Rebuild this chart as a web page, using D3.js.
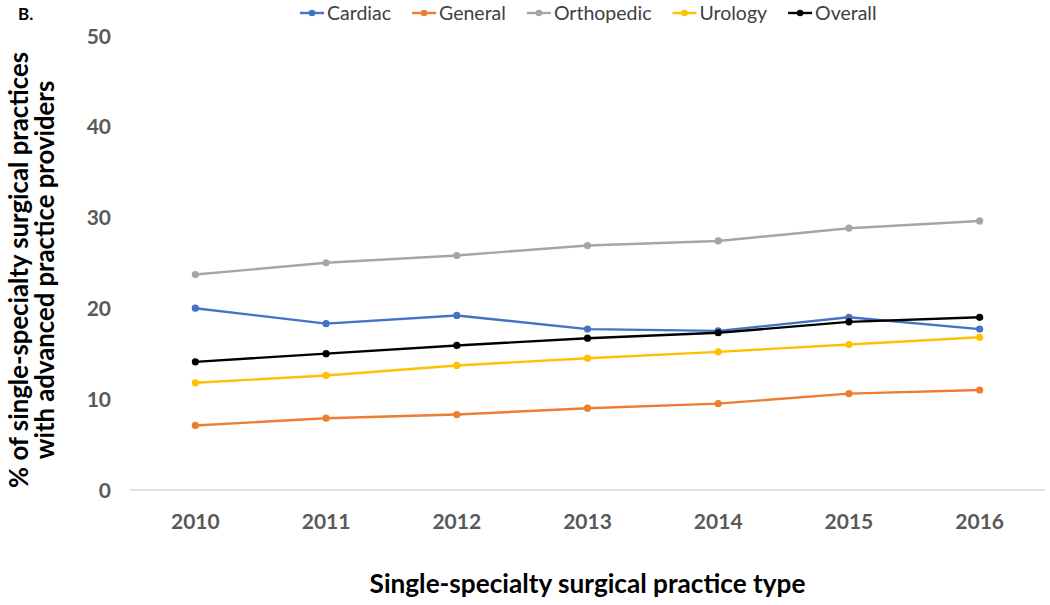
<!DOCTYPE html>
<html>
<head>
<meta charset="utf-8">
<script src="https://cdn.jsdelivr.net/npm/d3@7"></script>
<style>
  html, body { margin: 0; padding: 0; background: #fff; }
  svg { display: block; }
  text { font-family: Lato, "Open Sans", "Liberation Sans", sans-serif; }
</style>
</head>
<body>
<svg id="chart" width="1050" height="605"></svg>
<script>
// ---- Data ----
const years = ["2010", "2011", "2012", "2013", "2014", "2015", "2016"];
const seriesNames = ["Cardiac", "General", "Orthopedic", "Urology", "Overall"];
const cardiac    = [20.0, 18.3, 19.2, 17.7, 17.5, 19.0, 17.7];
const general    = [7.1, 7.9, 8.3, 9.0, 9.5, 10.6, 11.0];
const orthopedic = [23.7, 25.0, 25.8, 26.9, 27.4, 28.8, 29.6];
const urology    = [11.8, 12.6, 13.7, 14.5, 15.2, 16.0, 16.8];
const overall    = [14.1, 15.0, 15.9, 16.7, 17.3, 18.5, 19.0];
const yTicks = [0, 10, 20, 30, 40, 50];
const colors = ["#4472C4", "#ED7D31", "#A5A5A5", "#FFC000", "#000000"];
const seriesValues = [cardiac, general, orthopedic, urology, overall];

const svg = d3.select("#chart");
const plot = { left: 130, right: 1045, top: 35.5, bottom: 490 };

const x = d3.scaleBand().domain(years).range([plot.left, plot.right]).padding(0);
const y = d3.scaleLinear().domain([0, 50]).range([plot.bottom, plot.top]);
const cx = d => x(d) + x.bandwidth() / 2;

function fitText(sel, target) {
  const base = parseFloat(sel.style("font-size"));
  const w = sel.node().getComputedTextLength();
  sel.style("font-size", (base * target / w) + "px");
}

// x-axis baseline
svg.append("line")
  .attr("x1", plot.left).attr("x2", plot.right)
  .attr("y1", y(0)).attr("y2", y(0))
  .attr("stroke", "#D9D9D9").attr("stroke-width", 1.3);

// y tick labels
const yAxis = d3.axisLeft(y).tickValues(yTicks).tickSize(0).tickPadding(0);
const gy = svg.append("g").attr("transform", `translate(111,0)`).call(yAxis);
gy.select(".domain").remove();
gy.selectAll("text")
  .style("font-family", "Lato, 'Open Sans', sans-serif")
  .style("font-size", "21px").style("font-weight", "bold")
  .attr("fill", "#595959").attr("dy", "0.36em");

// x tick labels
const xAxis = d3.axisBottom(x).tickSize(0).tickPadding(0);
const gx = svg.append("g").attr("transform", `translate(0,529)`).call(xAxis);
gx.select(".domain").remove();
gx.selectAll("text")
  .style("font-family", "Lato, 'Open Sans', sans-serif")
  .style("font-size", "21px").style("font-weight", "bold")
  .attr("fill", "#595959").attr("dy", "0").attr("y", 0);

// lines
const line = d3.line().x((d, i) => cx(years[i])).y(d => y(d));
seriesValues.forEach((vals, si) => {
  svg.append("path").datum(vals)
    .attr("d", line).attr("fill", "none")
    .attr("stroke", colors[si]).attr("stroke-width", 2.4)
    .attr("stroke-linejoin", "round");
  svg.append("g").selectAll("circle").data(vals).join("circle")
    .attr("cx", (d, i) => cx(years[i])).attr("cy", d => y(d))
    .attr("r", 3.6).attr("fill", colors[si]);
});

// Legend
const legend = svg.append("g");
let lx = 300;
seriesNames.forEach((name, i) => {
  const g = legend.append("g");
  g.append("line").attr("x1", lx).attr("x2", lx + 24).attr("y1", 13).attr("y2", 13)
    .attr("stroke", colors[i]).attr("stroke-width", 2.4);
  g.append("circle").attr("cx", lx + 12).attr("cy", 13).attr("r", 3.3).attr("fill", colors[i]);
  const t = g.append("text").attr("x", lx + 27).attr("y", 20)
    .style("font-size", "19.5px").attr("fill", "#404040").text(name);
  lx += 27 + t.node().getComputedTextLength() + 21;
});

// "B." label
svg.append("text").attr("x", 18).attr("y", 20)
  .style("font-size", "17px").style("font-weight", "bold").attr("fill", "#000").text("B.");

// x-axis title
const xt = svg.append("text")
  .attr("x", (plot.left + plot.right) / 2).attr("y", 593)
  .attr("text-anchor", "middle")
  .style("font-size", "26px").style("font-weight", "bold").attr("fill", "#000")
  .text("Single-specialty surgical practice type");
fitText(xt, 436);

// y-axis title (two lines)
const ytitle = svg.append("g").attr("transform", "translate(0,270) rotate(-90)");
const yl1 = ytitle.append("text").attr("x", 0).attr("y", 28)
  .attr("text-anchor", "middle")
  .style("font-size", "24px").style("font-weight", "bold").attr("fill", "#000")
  .text("% of single-specialty surgical practices");
fitText(yl1, 436);
const fs = yl1.style("font-size");
ytitle.append("text").attr("x", 0).attr("y", 54)
  .attr("text-anchor", "middle")
  .style("font-size", fs).style("font-weight", "bold").attr("fill", "#000")
  .text("with advanced practice providers");
</script>
</body>
</html>
